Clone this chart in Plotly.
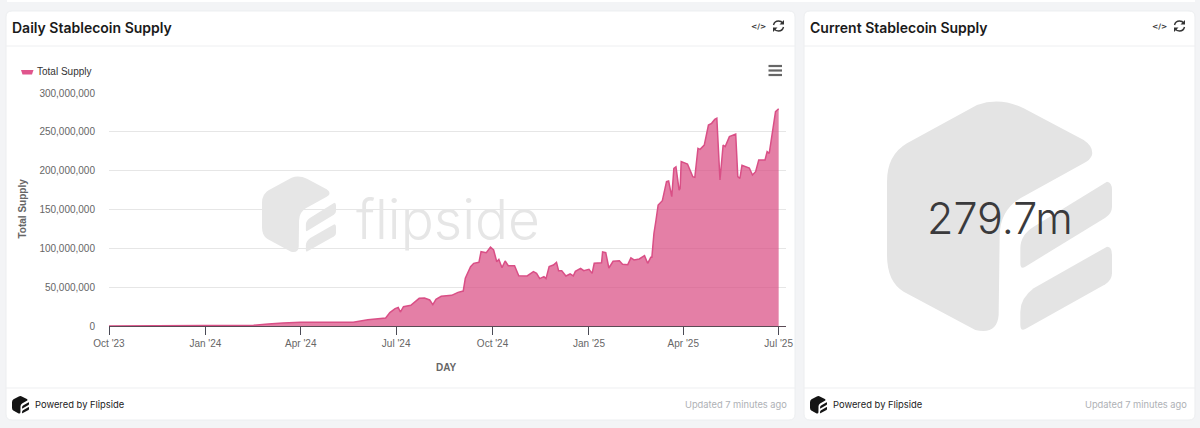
import plotly.graph_objects as go

W, H = 1200, 428

days = ["2023-10-01","2023-12-01","2024-01-01","2024-02-01","2024-02-16","2024-03-01","2024-03-15","2024-04-01","2024-05-01","2024-05-21","2024-06-04","2024-06-15",
"2024-06-21","2024-06-25","2024-06-30","2024-07-03","2024-07-05","2024-07-08","2024-07-15","2024-07-23","2024-07-28","2024-08-02","2024-08-05","2024-08-08","2024-08-13","2024-08-23","2024-08-29","2024-09-03","2024-09-05","2024-09-10","2024-09-13","2024-09-18","2024-09-20","2024-09-25","2024-09-29",
"2024-10-02","2024-10-05","2024-10-07","2024-10-10","2024-10-13","2024-10-16","2024-10-22","2024-10-26","2024-11-03","2024-11-09","2024-11-12","2024-11-15","2024-11-19","2024-11-21","2024-11-24","2024-11-28","2024-12-01","2024-12-03","2024-12-06","2024-12-10","2024-12-14","2024-12-17","2024-12-19","2024-12-24","2024-12-27",
"2025-01-01","2025-01-04","2025-01-06","2025-01-13","2025-01-14","2025-01-17","2025-01-20","2025-01-24","2025-01-30","2025-02-02","2025-02-07","2025-02-10","2025-02-13","2025-02-18","2025-02-23","2025-02-26","2025-03-01","2025-03-02",
"2025-03-04","2025-03-06","2025-03-08","2025-03-12","2025-03-16","2025-03-18","2025-03-21","2025-03-23","2025-03-25","2025-03-28","2025-03-29","2025-03-30","2025-04-05","2025-04-10","2025-04-12","2025-04-15","2025-04-17","2025-04-21","2025-04-25","2025-04-28","2025-05-01","2025-05-03","2025-05-06","2025-05-09","2025-05-11","2025-05-15","2025-05-21","2025-05-23","2025-05-25","2025-05-27","2025-06-03","2025-06-06","2025-06-09","2025-06-12","2025-06-18","2025-06-20","2025-06-22","2025-06-28","2025-07-01"]

total_supply_m = [0.1,0.3,0.5,0.8,1.0,2.5,4.0,4.8,4.5,4.8,8.0,9.4,
10.3,17.2,22.3,24,18,24.9,26.6,35.6,36,33.5,27.5,34.3,38.2,39.5,43.3,45,61.4,76.4,80.7,82,95.7,94.4,101.7,
97.9,82.8,85.8,75.1,83.7,77.7,77.7,64.8,64.4,70,67.8,61,63.5,61,76.4,78.5,82,71.2,71.2,64.4,67,64.4,70.4,74.3,71.2,
73,67.8,80.7,81.5,95.3,94.4,74.7,83.3,84.1,79.4,79,87.6,85,86.3,90.6,80.7,88.4,88.4,
119.3,136.5,155.8,161.4,185.8,186.7,166.5,203,205,175,177,211.6,208.6,192.3,191.4,228.8,227.5,233,258.8,261,266,267.4,188,233,231,243.8,247.2,192.3,190,206.9,203.4,194.4,198.7,213.7,213.7,224.5,222.3,276,279.7]

y_ticks = [0, 50e6, 100e6, 150e6, 200e6, 250e6, 300e6]
chart_title = "Daily Stablecoin Supply"
card_title = "Current Stablecoin Supply"
big_number = "279.7m"

PINK_LINE = "#d94f86"
PINK_FILL = "rgba(217,72,128,0.7)"
SANS = "Liberation Sans"
UI = "Inter"

def px(x): return round(x / W, 5)
def py(y): return round(1 - y / H, 5)

def path(segs, ox=0.0, oy=0.0, s=1.0):
    out = []
    for seg in segs:
        cmd, pts = seg[0], seg[1:]
        parts = [cmd]
        for i in range(0, len(pts), 2):
            parts.append(f"{px(ox + pts[i] * s)},{py(oy + pts[i + 1] * s)}")
        out.append(" ".join(parts))
    return " ".join(out) + " Z"

def rounded(x0, y0, x1, y1, r=6):
    return path([("M", x0 + r, y0), ("L", x1 - r, y0), ("Q", x1, y0, x1, y0 + r), ("L", x1, y1 - r),
                 ("Q", x1, y1, x1 - r, y1), ("L", x0 + r, y1), ("Q", x0, y1, x0, y1 - r), ("L", x0, y0 + r),
                 ("Q", x0, y0, x0 + r, y0)])

LOGO = [
    [("M",350,40),("Q",420,15,490,50),("L",670,145),("Q",700,165,695,190),("Q",690,205,670,215),("L",480,320),
     ("Q",420,355,418,430),("L",415,670),("Q",410,730,345,715),("L",130,600),("Q",80,570,80,490),("L",80,270),
     ("Q",80,190,140,155)],
    [("M",740,270),("Q",755,272,755,295),("L",755,345),("Q",755,365,735,378),("L",495,525),("Q",480,535,480,515),
     ("L",480,470),("Q",480,430,520,405)],
    [("M",740,465),("Q",755,465,755,490),("L",755,545),("Q",755,565,735,578),("L",495,712),("Q",480,720,480,700),
     ("L",480,660),("Q",480,620,520,590)],
]

def logo(x0, y0, width, color):
    s = width / 675
    ox, oy = x0 - 80 * s, y0 - 25 * s
    return [dict(type="path", xref="paper", yref="paper", path=path(p, ox, oy, s), fillcolor=color,
                 line=dict(width=0), layer="below") for p in LOGO]

def refresh(cx, cy, color="#333333"):
    arcs = [[("M",cx-5,cy-1),("Q",cx-4,cy-5,cx,cy-5),("Q",cx+3,cy-5,cx+4,cy-3)],
            [("M",cx+5,cy+1),("Q",cx+4,cy+5,cx,cy+5),("Q",cx-3,cy+5,cx-4,cy+3)]]
    heads = [[("M",cx+5.5,cy-6),("L",cx+5.5,cy-1.5),("L",cx+1,cy-1.5)],
             [("M",cx-5.5,cy+6),("L",cx-5.5,cy+1.5),("L",cx-1,cy+1.5)]]
    shp = []
    for a in arcs:
        d = path(a).replace(" Z", "")
        shp.append(dict(type="path", xref="paper", yref="paper", path=d, line=dict(color=color, width=1.4)))
    for h in heads:
        shp.append(dict(type="path", xref="paper", yref="paper", path=path(h), fillcolor=color, line=dict(width=0)))
    return shp

def hline(x0, x1, y, color="#eeeff1", width=1):
    return dict(type="line", xref="paper", yref="paper", x0=px(x0), x1=px(x1), y0=py(y), y1=py(y),
                line=dict(color=color, width=width), layer="below")

def card(x0, y0, x1, y1):
    return dict(type="path", xref="paper", yref="paper", path=rounded(x0, y0, x1, y1), fillcolor="#ffffff",
                line=dict(color="#eceef0", width=1), layer="below")

shapes = [
    dict(type="rect", xref="paper", yref="paper", x0=px(7), x1=px(1195), y0=py(-6), y1=py(2), fillcolor="#ffffff",
         line=dict(width=0), layer="below"),
    card(6, 11, 795, 420), card(804, 11, 1195, 420),
    hline(6, 795, 46), hline(804, 1195, 46), hline(6, 795, 388), hline(804, 1195, 388),
]
shapes += logo(262, 176, 74, "#e6e6e6")
shapes += logo(887, 100, 225, "#e4e4e4")
shapes += logo(12, 396, 17, "#141414")
shapes += logo(810, 396, 17, "#141414")
shapes += refresh(778.5, 26) + refresh(1179.5, 26)
# legend swatch
shapes.append(dict(type="path", xref="paper", yref="paper",
                   path=path([("M",21,70),("L",33.5,70),("L",32,74.5),("L",22.5,74.5)]),
                   fillcolor="#e0558d", line=dict(width=0)))
# export menu
for yy in (66, 70.5, 75):
    shapes.append(dict(type="line", xref="paper", yref="paper", x0=px(768.5), x1=px(782), y0=py(yy), y1=py(yy),
                       line=dict(color="#666666", width=2.2)))

def note(x, y, text, size, color, family=UI, anchor="left", weight=None, angle=0):
    font = dict(size=size, color=color, family=family)
    if weight:
        font["weight"] = weight
    return dict(xref="paper", yref="paper", x=px(x), y=py(y), text=text, showarrow=False, xanchor=anchor,
                yanchor="middle", font=font, textangle=angle)

annotations = [
    note(10, 28, chart_title, 14, "#1a1a1a", weight=600),
    note(808, 28, card_title, 14, "#1a1a1a", weight=600),
    note(758.5, 26, "&lt;/&gt;", 7.5, "#333333", family="DejaVu Sans", anchor="center", weight=700),
    note(1159.5, 26, "&lt;/&gt;", 7.5, "#333333", family="DejaVu Sans", anchor="center", weight=700),
    note(35.5, 72, "Total Supply", 10, "#333333", family=SANS),
    note(448, 219, "flipside", 55, "#e6e6e6", anchor="center", weight=300),
    note(999.5, 218, big_number, 43, "#3a3a3c", anchor="center", weight=300),
    note(33, 405, "Powered by Flipside", 9.4, "#222222"),
    note(831, 405, "Powered by Flipside", 9.4, "#222222"),
    note(789, 405, "Updated 7 minutes ago", 9.3, "#aeb1b5", anchor="right"),
    note(1189, 405, "Updated 7 minutes ago", 9.3, "#aeb1b5", anchor="right"),
    note(22.5, 209, "Total Supply", 10, "#666666", family=SANS, anchor="center", weight=700, angle=-90),
    note(446, 367, "DAY", 10, "#666666", family=SANS, anchor="center", weight=700),
]

fig = go.Figure(go.Scatter(
    x=days, y=[v * 1e6 for v in total_supply_m], mode="lines", name="Total Supply",
    line=dict(color=PINK_LINE, width=1.5), fill="tozeroy", fillcolor=PINK_FILL,
))

fig.update_layout(
    width=W, height=H, autosize=False, margin=dict(l=0, r=0, t=0, b=0, pad=0), showlegend=False,
    paper_bgcolor="#f3f4f6", plot_bgcolor="rgba(0,0,0,0)", shapes=shapes, annotations=annotations,
    xaxis=dict(domain=[109 / W, 786 / W], type="date", range=["2023-10-01", "2025-07-08"], tick0="2023-10-01",
               dtick="M3", tickformat="%b '%y", ticks="outside", ticklen=8, tickcolor="#4a4a55", tickwidth=1,
               showline=True, linecolor="#5a4a55", linewidth=1, showgrid=False, zeroline=False, automargin=False,
               tickfont=dict(family=SANS, size=10, color="#666666")),
    yaxis=dict(domain=[1 - 326 / H, 1 - 93 / H], range=[0, 300e6], tickvals=y_ticks, tickformat=",",
               showgrid=True, gridcolor="#e6e6e6", gridwidth=1, zeroline=False, showline=False, ticks="",
               automargin=False, ticklabelstandoff=13, tickfont=dict(family=SANS, size=10, color="#666666")),
)

fig.write_html("out.html", config=dict(displayModeBar=False),
               post_script="document.body.style.margin='0';document.body.style.overflow='hidden';")
